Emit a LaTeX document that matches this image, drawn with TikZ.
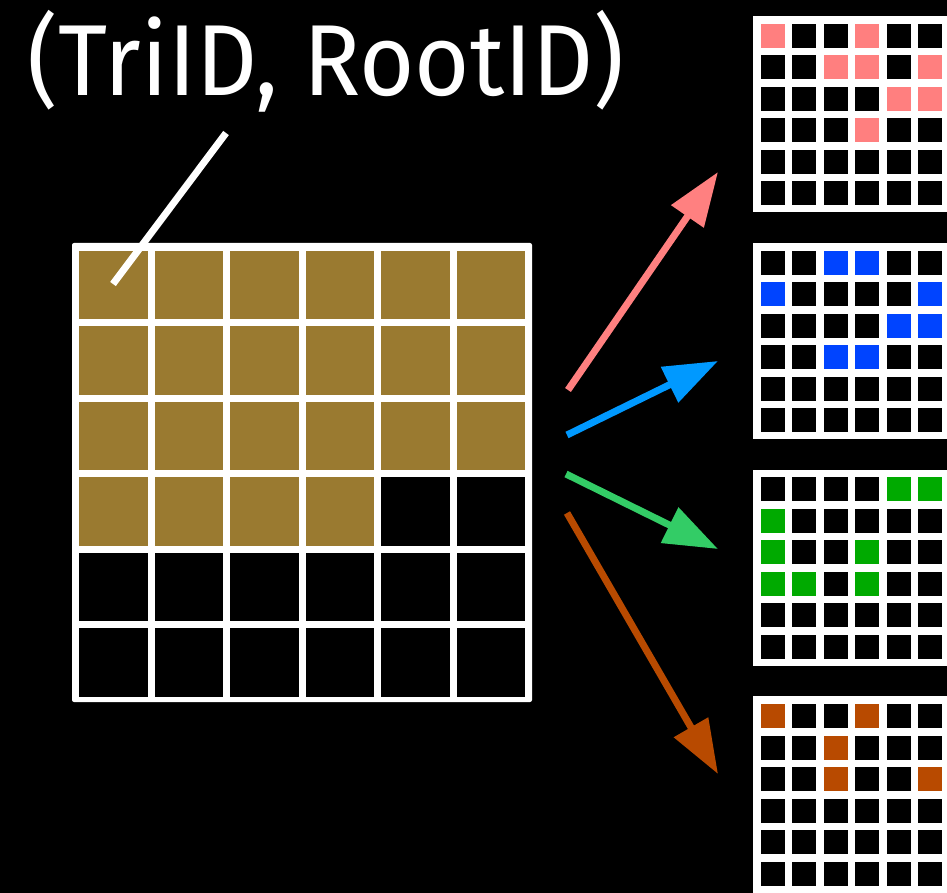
\documentclass[tikz,border=0pt]{standalone}
\usepackage{fontspec}
\usepackage{graphicx}
\usetikzlibrary{arrows.meta}
\newfontfamily\idfont{Fira Sans}
\definecolor{cellbrown}{RGB}{154,122,48}
\definecolor{mpink}{RGB}{255,127,127}
\definecolor{mblue}{RGB}{0,68,255}
\definecolor{mgreen}{RGB}{0,170,0}
\definecolor{morange}{RGB}{184,74,0}
\definecolor{apink}{RGB}{255,128,128}
\definecolor{ablue}{RGB}{0,153,255}
\definecolor{agreen}{RGB}{51,204,102}

\begin{document}
\begin{tikzpicture}[x=1pt,y=-1pt,
  flow/.style={line width=7pt,-{Triangle[length=54pt,width=38pt]}}]
\useasboundingbox (0,0) rectangle (947,893);
\fill[black] (0,0) rectangle (947,893);
% ================= key label =================
\node[text=white,inner sep=0pt] (tag) at (326,61)
  {\resizebox*{596pt}{102pt}{\idfont (TriID, RootID)}};
\coordinate (tagfoot) at (226,133);
\coordinate (firstcell) at (113,284);
% ================= table of slots =================
\fill[white,rounded corners=2pt] (72,243) rectangle (532,702);
\foreach \j in {0,...,5} {
  \foreach \i in {0,...,5} {
    \pgfmathsetmacro{\xx}{79.3+\i*75.5}
    \pgfmathsetmacro{\yy}{250.7+\j*75.5}
    \pgfmathtruncatemacro{\n}{\j*6+\i}
    \ifnum\n<22
      \fill[cellbrown] (\xx,\yy) rectangle ++(68.5,68.5);
    \else
      \fill[black] (\xx,\yy) rectangle ++(68.5,68.5);
    \fi
  }
}
\draw[white,line width=7pt] (tagfoot) -- (firstcell);
% ================= hashed copies =================
\foreach \k/\clr/\cells in {0/mpink/{0/0,3/0,2/1,3/1,5/1,4/2,5/2,3/3},
                           1/mblue/{2/0,3/0,0/1,5/1,4/2,5/2,2/3,3/3},
                           2/mgreen/{4/0,5/0,0/1,0/2,3/2,0/3,1/3,3/3},
                           3/morange/{0/0,3/0,2/1,2/2,5/2}} {
  \pgfmathsetmacro{\gy}{24+\k*226.7}
  \fill[white] (753,\gy-7.7) rectangle (960,\gy+188.5);
  \foreach \j in {0,...,5} {
    \foreach \i in {0,...,5} {
      \fill[black] (760.7+\i*31.5,\gy+\j*31.5) rectangle ++(24,24);
    }
  }
  \foreach \c/\r in \cells {
    \fill[\clr] (760.7+\c*31.5,\gy+\r*31.5) rectangle ++(24,24);
  }
}
% ================= arrows =================
\coordinate (src1) at (568,390);
\coordinate (src2) at (567,435);
\coordinate (src3) at (566,474);
\coordinate (src4) at (567,513);
\coordinate (dst1) at (718,172);
\coordinate (dst2) at (718,361);
\coordinate (dst3) at (718,549);
\coordinate (dst4) at (718,774);
\draw[flow,apink] (src1) -- (dst1);
\draw[flow,ablue] (src2) -- (dst2);
\draw[flow,agreen] (src3) -- (dst3);
\draw[flow,morange] (src4) -- (dst4);
\end{tikzpicture}
\end{document}
